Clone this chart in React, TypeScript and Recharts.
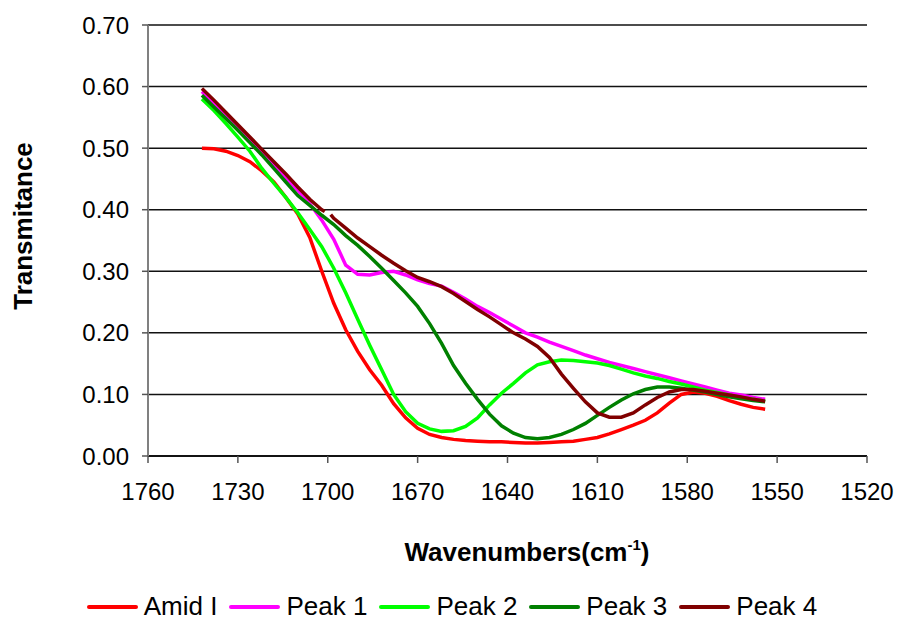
import React from "react";
import { LineChart, Line, XAxis, YAxis, CartesianGrid, Legend } from "recharts";

// wavenumbers (cm-1), shared by all series
const wavenumbers = [
  1742, 1738, 1734, 1730, 1726, 1722, 1718, 1714, 1710, 1706,
  1702, 1698, 1694, 1690, 1686, 1682, 1678, 1674, 1670, 1666,
  1662, 1658, 1654, 1650, 1646, 1642, 1638, 1634, 1630, 1626,
  1622, 1618, 1614, 1610, 1606, 1602, 1598, 1594, 1590, 1586,
  1582, 1578, 1574, 1570, 1566, 1562, 1558, 1554,
];

const amidI = [
  0.5, 0.499, 0.495, 0.488, 0.478, 0.463, 0.445, 0.42, 0.393, 0.355,
  0.3, 0.248, 0.205, 0.17, 0.14, 0.115, 0.085, 0.062, 0.045, 0.035,
  0.03, 0.027, 0.025, 0.024, 0.023, 0.023, 0.022, 0.021, 0.021, 0.022,
  0.023, 0.024, 0.027, 0.03, 0.036, 0.043, 0.05, 0.058, 0.07, 0.086,
  0.1, 0.104, 0.102, 0.097, 0.09, 0.084, 0.079, 0.076,
];

const peak1 = [
  0.592, 0.573, 0.553, 0.533, 0.513, 0.493, 0.472, 0.452, 0.431, 0.41,
  0.383, 0.352, 0.31, 0.295, 0.294, 0.298, 0.3, 0.294, 0.286, 0.28,
  0.276, 0.266, 0.255, 0.243, 0.233, 0.222, 0.211, 0.2, 0.193, 0.185,
  0.178, 0.171, 0.164, 0.158, 0.152, 0.147, 0.142, 0.137, 0.132, 0.127,
  0.122, 0.117, 0.112, 0.107, 0.102, 0.099, 0.095, 0.092,
];

const peak2 = [
  0.58, 0.561, 0.54, 0.518, 0.495, 0.467, 0.443, 0.42, 0.395, 0.368,
  0.34, 0.305, 0.265, 0.222, 0.18, 0.14, 0.1, 0.072, 0.053, 0.044,
  0.04, 0.041, 0.048, 0.062, 0.083, 0.102, 0.118, 0.135, 0.148, 0.153,
  0.156, 0.155, 0.153, 0.151, 0.147, 0.141, 0.135, 0.13, 0.126, 0.121,
  0.117, 0.112, 0.107, 0.103, 0.099, 0.095, 0.092, 0.089,
];

const peak3 = [
  0.586, 0.567, 0.548, 0.529, 0.509, 0.489, 0.467, 0.445, 0.423, 0.407,
  0.391, 0.376, 0.358, 0.342, 0.324, 0.305, 0.285, 0.265, 0.243, 0.215,
  0.183, 0.147, 0.118, 0.092, 0.068, 0.049, 0.037, 0.03, 0.028, 0.03,
  0.035, 0.043, 0.053, 0.066, 0.079, 0.091, 0.101, 0.108, 0.112, 0.112,
  0.11, 0.107, 0.104, 0.1, 0.096, 0.093, 0.09, 0.088,
];

const peak4 = [
  0.597, 0.578, 0.558, 0.538, 0.518, 0.498, 0.478, 0.458, 0.437, 0.417,
  0.4, 0.386, 0.37, 0.354, 0.34, 0.326, 0.313, 0.301, 0.29, 0.283,
  0.275, 0.264, 0.251, 0.238, 0.226, 0.213, 0.2, 0.19, 0.178, 0.16,
  0.133, 0.11, 0.088, 0.07, 0.063, 0.063, 0.07, 0.083, 0.095, 0.104,
  0.108, 0.108, 0.105, 0.102, 0.099, 0.096, 0.092, 0.089,
];
// small break in the Peak 4 trace near 1700 cm-1
const peak4GapWn = [1701, 1700, 1699];
const peak4GapT = [0.397, null, 0.392];

const xTicks = [1760, 1730, 1700, 1670, 1640, 1610, 1580, 1550, 1520];
const yTicks = [0, 0.1, 0.2, 0.3, 0.4, 0.5, 0.6, 0.7];

const series = [
  { name: "Amid I", values: amidI, color: "#ff0000" },
  { name: "Peak 1", values: peak1, color: "#ff00ff" },
  { name: "Peak 2", values: peak2, color: "#00ff00" },
  { name: "Peak 3", values: peak3, color: "#008000" },
  { name: "Peak 4", values: peak4, color: "#800000" },
];

const FONT = "'Liberation Sans', Arial, sans-serif";

type Pt = { wn: number; t: number | null };

function toPoints(values: number[], extraWn: number[] = [], extraT: (number | null)[] = []) {
  const pts: Pt[] = wavenumbers.map((wn, i) => ({ wn, t: values[i] }));
  extraWn.forEach((wn, i) => pts.push({ wn, t: extraT[i] }));
  return pts.sort((a, b) => b.wn - a.wn);
}

const XTitle = () => (
  <text x={527} y={561} textAnchor="middle" fontFamily={FONT} fontSize={26} fontWeight="bold" fill="#000">
    <tspan>Wavenumbers(cm</tspan>
    <tspan dy={-11} fontSize={15}>-1</tspan>
    <tspan dy={11}>)</tspan>
  </text>
);

const YTitle = () => (
  <text
    x={32}
    y={226}
    transform="rotate(-90 32 226)"
    textAnchor="middle"
    fontFamily={FONT}
    fontSize={26}
    fontWeight="bold"
    fill="#000"
  >
    Transmitance
  </text>
);

const LegendBox = () => (
  <div
    style={{
      display: "flex",
      justifyContent: "center",
      alignItems: "center",
      height: 40,
      paddingTop: 5,
      paddingLeft: 18,
      boxSizing: "border-box",
      fontFamily: FONT,
      fontSize: 26,
      color: "#000",
    }}
  >
    {series.map((s) => (
      <div key={s.name} style={{ display: "flex", alignItems: "center", marginRight: 12 }}>
        <span style={{ display: "inline-block", width: 51, height: 4, borderRadius: 2, background: s.color, marginRight: 6 }} />
        <span>{s.name}</span>
      </div>
    ))}
  </div>
);

export default function App() {
  return (
    <div style={{ position: "absolute", left: 0, top: 0, width: 898, height: 624, background: "#fff" }}>
      <LineChart width={898} height={624} margin={{ top: 25, right: 31, left: 0, bottom: 0 }}>
        <CartesianGrid vertical={false} stroke="#111" strokeWidth={1.5} />
        <XAxis
          type="number"
          dataKey="wn"
          domain={[1520, 1760]}
          reversed
          ticks={xTicks}
          interval={0}
          height={128}
          tickSize={7}
          tickMargin={20}
          axisLine={{ stroke: "#000", strokeWidth: 1.5 }}
          tickLine={{ stroke: "#555", strokeWidth: 1.5 }}
          tick={{ fontSize: 24, fill: "#000", fontFamily: FONT }}
          label={<XTitle />}
          allowDuplicatedCategory={false}
        />
        <YAxis
          type="number"
          domain={[0, 0.7]}
          ticks={yTicks}
          interval={0}
          width={148}
          tickSize={6}
          tickMargin={13}
          tickFormatter={(v: number) => v.toFixed(2)}
          axisLine={{ stroke: "#808080", strokeWidth: 2 }}
          tickLine={{ stroke: "#555", strokeWidth: 1.5 }}
          tick={{ fontSize: 24, fill: "#000", fontFamily: FONT }}
          label={<YTitle />}
        />
        <Legend verticalAlign="bottom" height={40} content={<LegendBox />} wrapperStyle={{ left: 0, width: 898, bottom: 0 }} />
        {series.map((s) => (
          <Line
            key={s.name}
            name={s.name}
            data={s.name === "Peak 4" ? toPoints(s.values, peak4GapWn, peak4GapT) : toPoints(s.values)}
            dataKey="t"
            type="linear"
            stroke={s.color}
            strokeWidth={3.5}
            dot={false}
            activeDot={false}
            isAnimationActive={false}
          />
        ))}
      </LineChart>
    </div>
  );
}
